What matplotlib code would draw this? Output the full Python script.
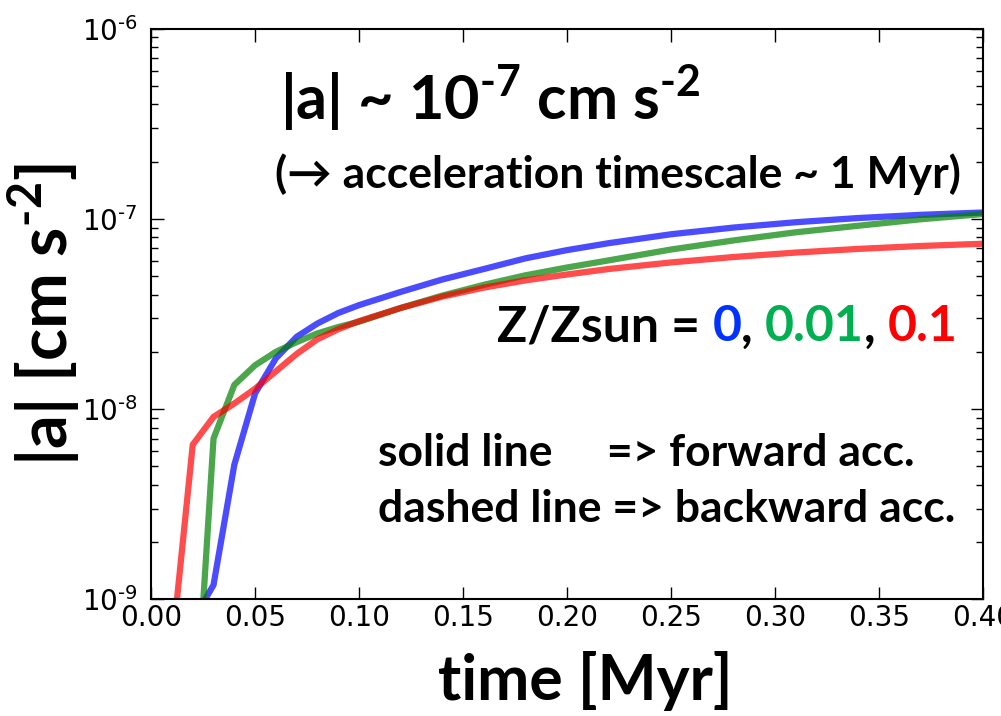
import numpy as np
import matplotlib
matplotlib.use("Agg")
import matplotlib.pyplot as plt

# tiempos [Myr] y aceleraciones |a| [cm s^-2]
t_red = [0.01, 0.02, 0.03, 0.04, 0.05, 0.06, 0.07, 0.08, 0.09, 0.10,
         0.12, 0.14, 0.16, 0.18, 0.20, 0.22, 0.25, 0.28, 0.31, 0.34, 0.37, 0.40]
a_red = [5.5e-10, 6.5e-9, 9.1e-9, 1.07e-8, 1.28e-8, 1.58e-8, 1.95e-8, 2.33e-8, 2.63e-8, 2.9e-8,
         3.4e-8, 3.9e-8, 4.35e-8, 4.75e-8, 5.1e-8, 5.45e-8, 5.9e-8, 6.3e-8, 6.65e-8, 6.95e-8, 7.2e-8, 7.4e-8]

t_green = [0.02, 0.03, 0.04, 0.05, 0.06, 0.07, 0.08, 0.09, 0.10,
           0.12, 0.14, 0.16, 0.18, 0.20, 0.22, 0.25, 0.28, 0.31, 0.34, 0.37, 0.40]
a_green = [1.3e-10, 7.0e-9, 1.34e-8, 1.70e-8, 2.0e-8, 2.25e-8, 2.5e-8, 2.7e-8, 2.88e-8,
           3.4e-8, 3.95e-8, 4.5e-8, 5.05e-8, 5.55e-8, 6.05e-8, 6.9e-8, 7.7e-8, 8.5e-8, 9.2e-8, 9.95e-8, 1.06e-7]

t_blue = [0.02, 0.03, 0.04, 0.05, 0.06, 0.07, 0.08, 0.09, 0.10,
          0.12, 0.14, 0.16, 0.18, 0.20, 0.22, 0.25, 0.28, 0.31, 0.34, 0.37, 0.40]
a_blue = [7.7e-10, 1.19e-9, 5.1e-9, 1.21e-8, 1.85e-8, 2.4e-8, 2.82e-8, 3.2e-8, 3.52e-8,
          4.13e-8, 4.8e-8, 5.45e-8, 6.2e-8, 6.85e-8, 7.45e-8, 8.3e-8, 9.0e-8, 9.6e-8, 1.01e-7, 1.05e-7, 1.08e-7]

xticks = [0.00, 0.05, 0.10, 0.15, 0.20, 0.25, 0.30, 0.35, 0.40]
xlabels = ['0.00', '0.05', '0.10', '0.15', '0.20', '0.25', '0.30', '0.35', '0.40']
yticks = [1e-9, 1e-8, 1e-7, 1e-6]
ylabels = [r'$\mathdefault{10^{‐9}}$', r'$\mathdefault{10^{‐8}}$',
           r'$\mathdefault{10^{‐7}}$', r'$\mathdefault{10^{‐6}}$']

fuente = ['Lato', 'DejaVu Sans']

fig = plt.figure(figsize=(10.01, 7.16), dpi=100)
ax = fig.add_axes([0.151, 0.163, 0.831, 0.797])

ax.plot(t_blue, a_blue, color='blue', alpha=0.7, lw=4.5)
ax.plot(t_green, a_green, color='green', alpha=0.7, lw=4.5)
ax.plot(t_red, a_red, color='red', alpha=0.7, lw=4.5)

ax.set_yscale('log')
ax.set_xlim(0, 0.4)
ax.set_ylim(1e-9, 1e-6)
ax.set_xticks(xticks)
ax.set_xticklabels(xlabels)
ax.set_yticks(yticks)
ax.set_yticklabels(ylabels)
ax.tick_params(which='both', direction='in', top=True, right=True, labelsize=20)
ax.tick_params(which='major', length=9, width=1)
ax.tick_params(which='minor', length=5, width=1)
ax.tick_params(axis='y', pad=10)
for s in ax.spines.values():
    s.set_linewidth(1.5)

ax.set_xlabel('time [Myr]', family=fuente, fontweight='bold', fontsize=45)
ax.xaxis.set_label_coords(0.522, -0.09)
ax.xaxis.label.set_va('top')
ax.set_ylabel(r'|a| [cm s$^{\mathdefault{‐2}}$]', family=fuente, fontweight='bold', fontsize=48, labelpad=0)

ax.text(0.155, 0.840, r'|a| ~ 10$^{\mathdefault{‐7}}$ cm s$^{\mathdefault{‐2}}$',
        transform=ax.transAxes, family=fuente, fontweight='bold', fontsize=44)
ax.text(0.149, 0.720, '(\u2192 acceleration timescale ~ 1 Myr)',
        transform=ax.transAxes, family=fuente, fontweight='bold', fontsize=32)

# Z/Zsun con colores
piezas = [('Z/Zsun = ', 'black'), ('0', '#0033ff'), (', ', 'black'),
          ('0.01', '#00b050'), (', ', 'black'), ('0.1', '#ff0000')]
prev = ax.text(0.416, 0.452, piezas[0][0], transform=ax.transAxes, color=piezas[0][1],
               family=fuente, fontweight='bold', fontsize=36)
for txt, col in piezas[1:]:
    prev = ax.annotate(txt, xy=(1, 0), xycoords=prev, va='bottom', ha='left', color=col,
                       family=fuente, fontweight='bold', fontsize=36)

ax.text(0.273, 0.233, 'solid line     => forward acc.', transform=ax.transAxes,
        family=fuente, fontweight='bold', fontsize=32)
ax.text(0.273, 0.135, 'dashed line => backward acc.', transform=ax.transAxes,
        family=fuente, fontweight='bold', fontsize=32)

fig.savefig('out.png', dpi=100)
